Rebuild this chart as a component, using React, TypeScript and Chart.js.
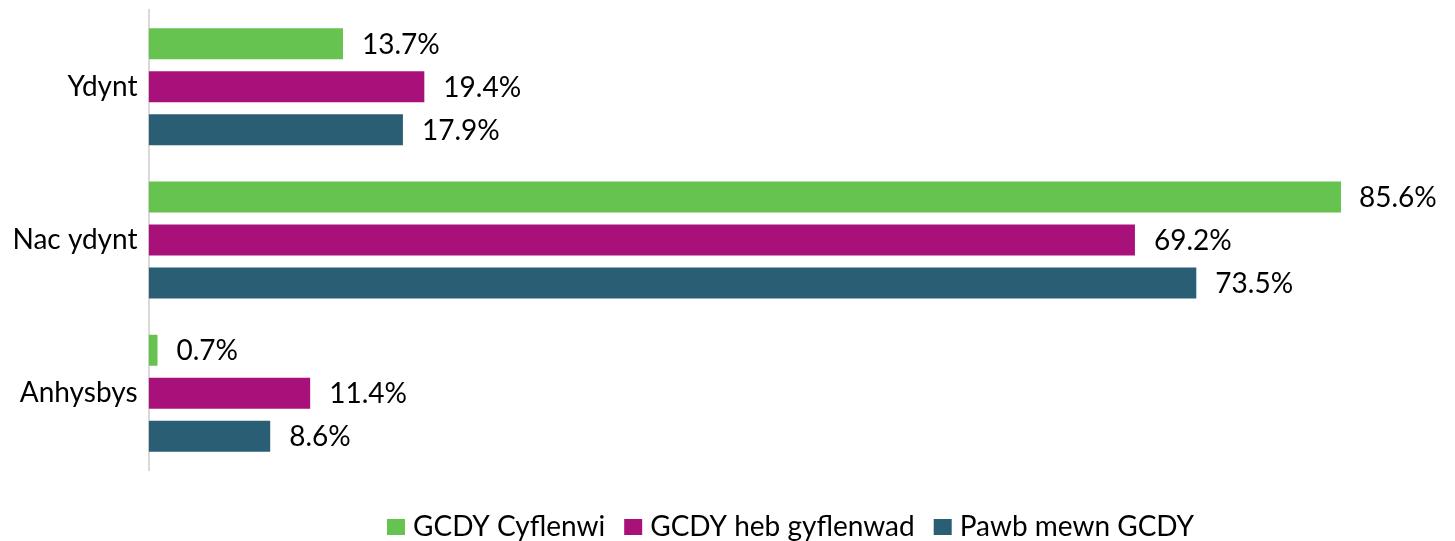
import React, { useEffect, useRef } from "react";
import { Chart, registerables } from "chart.js";

Chart.register(...registerables);

const categories = ["Ydynt", "Nac ydynt", "Anhysbys"];
const seriesNames = ["GCDY Cyflenwi", "GCDY heb gyflenwad", "Pawb mewn GCDY"];
const cyflenwi = [13.7, 85.6, 0.7];
const hebGyflenwad = [19.4, 69.2, 11.4];
const pawb = [17.9, 73.5, 8.6];
const seriesColors = ["#66C34F", "#A8117A", "#2A5E74"];
const axisMax = 83.57;

const FONT = "Lato, 'Open Sans', sans-serif";
const FS = 28;

const labelPlugin = {
  id: "barLabels",
  afterDatasetsDraw(chart: any) {
    const ctx = chart.ctx;
    const area = chart.chartArea;
    ctx.save();
    ctx.font = `${FS}px ${FONT}`;
    ctx.fillStyle = "#000000";
    ctx.textBaseline = "middle";
    ctx.textAlign = "left";
    chart.data.datasets.forEach((ds: any, di: number) => {
      const meta = chart.getDatasetMeta(di);
      meta.data.forEach((bar: any, i: number) => {
        const txt = ds.data[i].toFixed(1) + "%";
        const w = ctx.measureText(txt).width;
        const end = Math.min(bar.x, area.right);
        let x = end + 18;
        if (x + w > chart.width - 5) x = chart.width - 5 - w;
        ctx.fillText(txt, x, bar.y + 1);
      });
    });
    ctx.restore();
  },
};

const legendPlugin = {
  id: "customLegend",
  afterDraw(chart: any) {
    const ctx = chart.ctx;
    ctx.save();
    ctx.font = `${FS}px ${FONT}`;
    ctx.textBaseline = "middle";
    ctx.textAlign = "left";
    const box = 18;
    const gap = 8;
    const itemGap = 19;
    const widths = seriesNames.map((n) => ctx.measureText(n).width);
    const total =
      widths.reduce((a, w) => a + box + gap + w, 0) + itemGap * (seriesNames.length - 1);
    let x = 790.5 - total / 2;
    const cy = 527;
    seriesNames.forEach((n, i) => {
      ctx.fillStyle = seriesColors[i];
      ctx.fillRect(x, cy - 8, box, 16);
      ctx.fillStyle = "#000000";
      ctx.fillText(n, x + box + gap, cy);
      x += box + gap + widths[i] + itemGap;
    });
    ctx.restore();
  },
};

export default function App() {
  const ref = useRef<HTMLCanvasElement | null>(null);
  useEffect(() => {
    if (!ref.current) return;
    const chart = new Chart(ref.current, {
      type: "bar",
      data: {
        labels: categories,
        datasets: [cyflenwi, hebGyflenwad, pawb].map((d, i) => ({
          label: seriesNames[i],
          data: d,
          backgroundColor: seriesColors[i],
          borderColor: "rgba(255,255,255,0.5)",
          borderWidth: 1,
          categoryPercentage: 0.842,
          barPercentage: 0.767,
          clip: 0,
        })),
      },
      options: {
        indexAxis: "y",
        animation: false,
        responsive: false,
        maintainAspectRatio: false,
        layout: { padding: { left: 0, right: 114, top: 10, bottom: 71 } },
        plugins: {
          legend: { display: false },
          tooltip: { enabled: false },
        },
        scales: {
          x: {
            display: false,
            min: 0,
            max: axisMax,
          },
          y: {
            afterFit: (s: any) => {
              s.width = 148.5;
              s.paddingTop = 0;
              s.paddingBottom = 0;
            },
            grid: { display: false, drawTicks: false },
            border: { display: true, color: "#D9D9D9", width: 2 },
            ticks: {
              padding: 11,
              color: "#000000",
              font: { family: FONT, size: FS },
            },
          },
        },
      },
      plugins: [labelPlugin, legendPlugin],
    });
    return () => chart.destroy();
  }, []);
  return (
    <div style={{ position: "fixed", left: 0, top: 0, width: 1455, height: 541, background: "#fff" }}>
      <canvas ref={ref} width={1455} height={541} style={{ width: 1455, height: 541 }} />
    </div>
  );
}
